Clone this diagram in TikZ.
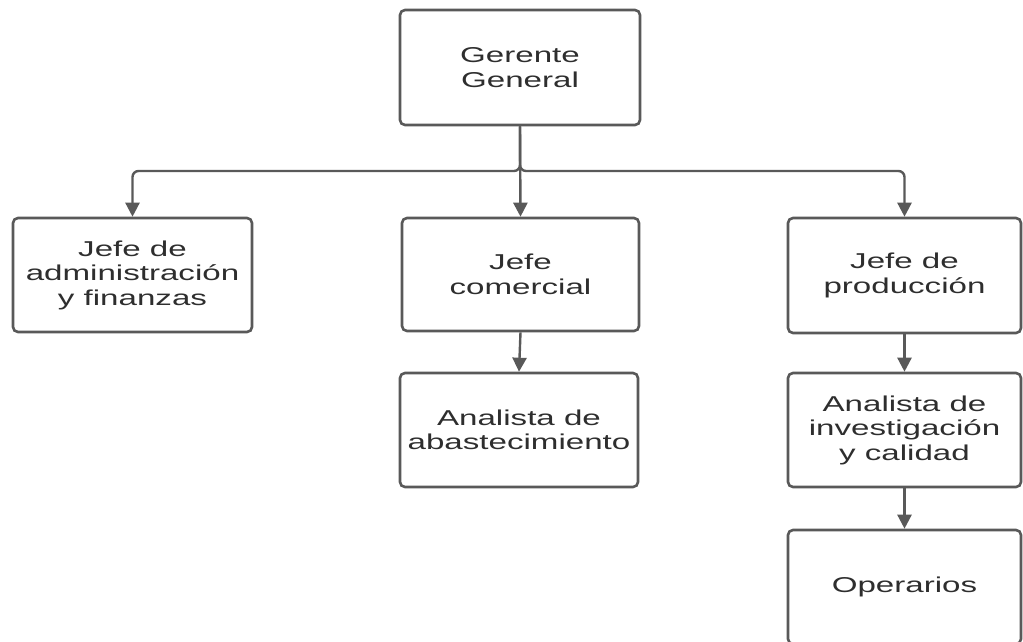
\documentclass[tikz,border=0pt]{standalone}
\usepackage{fontspec}
\setmainfont{Liberation Sans}[FakeStretch=1.54]
\usetikzlibrary{arrows.meta}
\definecolor{linegray}{HTML}{595959}
\definecolor{textgray}{HTML}{2E2E2E}
\begin{document}
\begin{tikzpicture}[x=1pt,y=-1pt,
  box/.style={draw=linegray,line width=2.6pt,rounded corners=5pt,fill=white,
    inner sep=0pt,align=center,text=textgray,
    font=\fontsize{21.5}{24.5}\selectfont},
  conn/.style={draw=linegray,line width=2.4pt,rounded corners=6pt,
    -{Triangle[width=14pt,length=14pt]}}]
\useasboundingbox (0,0) rectangle (1023,641);
\clip (0,0) rectangle (1023,641);
\node[box,minimum width=240pt,minimum height=115pt] (g) at (520,67.5) {Gerente\\General};
\node[box,minimum width=239pt,minimum height=114pt] (a) at (132.5,275) {Jefe de\\administración\\y finanzas};
\node[box,minimum width=237pt,minimum height=113pt] (c) at (520.5,274.5) {Jefe\\comercial};
\node[box,minimum width=233pt,minimum height=115pt] (p) at (904.5,275.5) {Jefe de\\producción};
\node[box,minimum width=238pt,minimum height=114pt] (aa) at (519,430) {Analista de\\abastecimiento};
\node[box,minimum width=233pt,minimum height=114pt] (ai) at (904.5,430) {Analista de\\investigación\\y calidad};
\node[box,minimum width=233pt,minimum height=114pt] (o) at (904.5,587) {Operarios};
\coordinate (j) at (520,171);
\draw[conn] (g.south) -- (j) -| (a.north);
\draw[conn] (g.south) -- (j) -| (p.north);
\draw[conn] (g.south) -- (c.north);
\draw[conn] (c.south) -- (aa.north);
\draw[conn] (p.south) -- (ai.north);
\draw[conn] (ai.south) -- (o.north);
\end{tikzpicture}
\end{document}
